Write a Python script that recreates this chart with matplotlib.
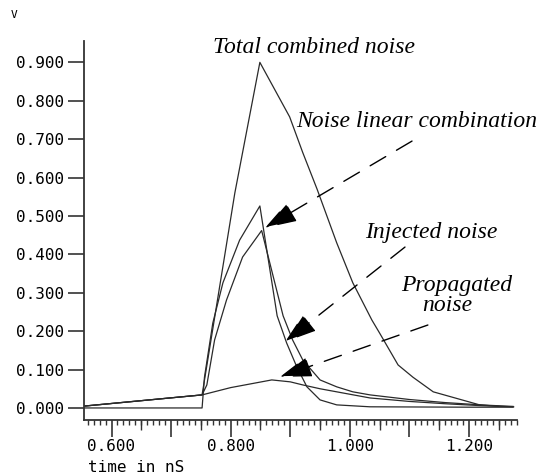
import numpy as np
import matplotlib
matplotlib.use('Agg')
import matplotlib.pyplot as plt
from matplotlib.ticker import MultipleLocator

# tiempos (nS) y tensiones (V)
t_total = [0.555, 0.752, 0.807, 0.849, 0.899, 0.921, 0.945, 0.978, 1.005, 1.037, 1.050, 1.081, 1.106, 1.140, 1.218, 1.274]
v_total = [0.005, 0.034, 0.560, 0.900, 0.758, 0.665, 0.570, 0.430, 0.326, 0.229, 0.195, 0.112, 0.080, 0.042, 0.008, 0.004]

t_injected = [0.555, 0.752, 0.756, 0.770, 0.787, 0.815, 0.849, 0.878, 0.894, 0.911, 0.928, 0.950, 0.978, 1.034, 1.200, 1.274]
v_injected = [0.000, 0.000, 0.080, 0.221, 0.326, 0.437, 0.526, 0.240, 0.169, 0.107, 0.055, 0.021, 0.008, 0.003, 0.002, 0.002]

t_linear = [0.555, 0.752, 0.760, 0.773, 0.793, 0.820, 0.852, 0.888, 0.904, 0.921, 0.950, 0.978, 1.005, 1.034, 1.100, 1.160, 1.220, 1.250]
v_linear = [0.005, 0.034, 0.060, 0.177, 0.281, 0.393, 0.462, 0.240, 0.177, 0.125, 0.073, 0.055, 0.042, 0.034, 0.022, 0.014, 0.008, 0.004]

t_propagated = [0.555, 0.752, 0.800, 0.869, 0.900, 0.921, 0.950, 0.978, 1.034, 1.100, 1.160, 1.220, 1.275]
v_propagated = [0.005, 0.034, 0.053, 0.073, 0.068, 0.060, 0.050, 0.042, 0.026, 0.017, 0.011, 0.006, 0.003]

y_ticks = [0.0, 0.1, 0.2, 0.3, 0.4, 0.5, 0.6, 0.7, 0.8, 0.9]
x_ticks = [0.6, 0.7, 0.8, 0.9, 1.0, 1.1, 1.2]
x_tick_labels = ['0.600', '', '0.800', '', '1.000', '', '1.200']
x_mid_ticks = [0.65, 0.75, 0.85, 0.95, 1.05, 1.15, 1.25]

mono = 'DejaVu Sans Mono'
serif = 'Liberation Serif'
line_col = '#2a2a2a'

fig = plt.figure(figsize=(5.43, 4.73), dpi=100)
ax = fig.add_axes([0.1547, 0.1121, 0.7974, 0.8013])

ax.plot(t_total, v_total, color=line_col, lw=0.9)
ax.plot(t_injected, v_injected, color=line_col, lw=0.9)
ax.plot(t_linear, v_linear, color=line_col, lw=0.9)
ax.plot(t_propagated, v_propagated, color=line_col, lw=0.9)

ax.set_xlim(0.5538, 1.2806)
ax.set_ylim(-0.0313, 0.9557)

for s in ['top', 'right']:
    ax.spines[s].set_visible(False)
for s in ['left', 'bottom']:
    ax.spines[s].set_color('#333333')
    ax.spines[s].set_linewidth(1.3)

ax.set_yticks(y_ticks)
ax.set_yticklabels(['%.3f' % v for v in y_ticks], fontfamily=mono, fontsize=11.5)
ax.tick_params(axis='y', direction='out', length=11.5, width=1.2, color='#333333', pad=3)

ax.set_xticks(x_ticks)
ax.set_xticklabels(x_tick_labels, fontfamily=mono, fontsize=11.5)
ax.xaxis.set_minor_locator(MultipleLocator(0.01))
ax.tick_params(axis='x', which='major', direction='out', length=12, width=1.2, color='#333333', pad=2)
ax.tick_params(axis='x', which='minor', direction='out', length=3.8, width=1.0, color='#333333')

sec = ax.secondary_xaxis('bottom')
sec.set_xticks(x_mid_ticks)
sec.set_xticklabels([])
sec.tick_params(direction='out', length=7, width=1.0, color='#333333')
sec.spines['bottom'].set_visible(False)

fig.text(14 / 543, 1 - 15 / 473, 'V', fontfamily=mono, fontsize=8, ha='center', va='center')
fig.text(88 / 543, 1 - 467 / 473, 'time in nS', fontfamily=mono, fontsize=11.5, ha='left', va='center')

# etiquetas
txt = dict(fontfamily=serif, fontstyle='italic', fontsize=17, ha='center', va='center')
ax.text(0.940, 0.9375, 'Total combined noise', **txt)
ax.text(1.1128, 0.747, 'Noise linear combination', **txt)
ax.text(1.1363, 0.458, 'Injected noise', **txt)
ax.text(1.180, 0.320, 'Propagated', **txt)
ax.text(1.163, 0.266, 'noise', **txt)

arrow = dict(arrowstyle='-|>,head_length=1.0,head_width=0.33', color='black', lw=1.0,
             linestyle=(0, (13, 9)), mutation_scale=20, shrinkA=0, shrinkB=0)
ax.annotate('', xy=(0.8576, 0.469), xytext=(1.1044, 0.695), arrowprops=arrow)
ax.annotate('', xy=(0.8912, 0.172), xytext=(1.0926, 0.419), arrowprops=arrow)
ax.annotate('', xy=(0.8828, 0.081), xytext=(1.131, 0.216), arrowprops=arrow)

plt.savefig('out.png', dpi=100)
